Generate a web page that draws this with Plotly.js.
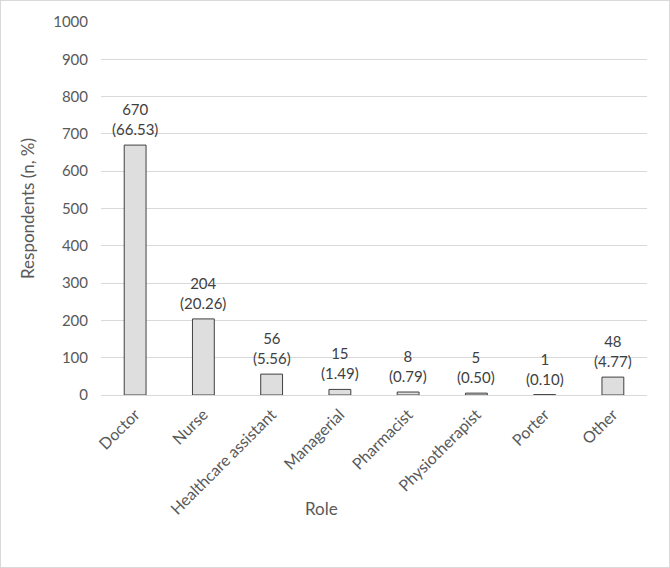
<!DOCTYPE html>
<html>
<head>
<meta charset="utf-8">
<script src="https://cdn.plot.ly/plotly-3.0.1.min.js"></script>
<style>
  body { margin: 0; background: #fff; }
  #wrap { position: relative; width: 670px; height: 568px; }
  #chart { width: 670px; height: 568px; }
  #frame { position: absolute; left: 0; top: 0; width: 668px; height: 566px; border: 1px solid #d9d9d9; pointer-events: none; }
</style>
</head>
<body>
<div id="wrap">
  <div id="chart"></div>
  <div id="frame"></div>
</div>
<script>
const roles = ['Doctor', 'Nurse', 'Healthcare assistant', 'Managerial', 'Pharmacist', 'Physiotherapist', 'Porter', 'Other'];
const counts = [670, 204, 56, 15, 8, 5, 1, 48];
const percents = ['66.53', '20.26', '5.56', '1.49', '0.79', '0.50', '0.10', '4.77'];

const font = 'Lato, Open Sans, sans-serif';

var data = [{
  type: 'bar',
  x: roles,
  y: counts,
  width: 0.32,
  marker: {color: '#dedede', line: {color: '#404040', width: 1}},
  hoverinfo: 'skip'
}];

// value labels above each bar
var annotations = roles.map((r, i) => ({
  x: r,
  y: counts[i],
  xref: 'x',
  yref: 'y',
  text: counts[i] + '<br>(' + percents[i] + ')',
  showarrow: false,
  yanchor: 'bottom',
  yshift: 5,
  font: {family: font, size: 15, color: '#404040'}
}));

annotations.push({
  text: 'Role',
  xref: 'paper', yref: 'paper',
  x: (321 - 101) / 546, y: -(508 - 395) / 373,
  xanchor: 'center', yanchor: 'middle',
  showarrow: false,
  font: {family: font, size: 17, color: '#595959'}
});

var layout = {
  width: 670,
  height: 568,
  margin: {l: 101, r: 23, t: 22, b: 173},
  paper_bgcolor: '#fff',
  plot_bgcolor: '#fff',
  font: {family: font, size: 15, color: '#595959'},
  showlegend: false,
  annotations: annotations,
  xaxis: {
    tickangle: -45,
    showgrid: false,
    showline: true,
    linecolor: '#d9d9d9',
    ticks: '',
    ticklabelstandoff: 3,
    tickfont: {size: 16, color: '#595959'}
  },
  yaxis: {
    range: [0, 1000],
    dtick: 100,
    showgrid: true,
    gridcolor: '#d9d9d9',
    zeroline: false,
    ticks: '',
    ticklabelstandoff: 12,
    tickfont: {size: 15, color: '#595959'},
    title: {text: 'Respondents (n, %)', font: {size: 17, color: '#595959'}, standoff: 14}
  }
};

Plotly.newPlot('chart', data, layout, {displayModeBar: false, staticPlot: true});
</script>
</body>
</html>
